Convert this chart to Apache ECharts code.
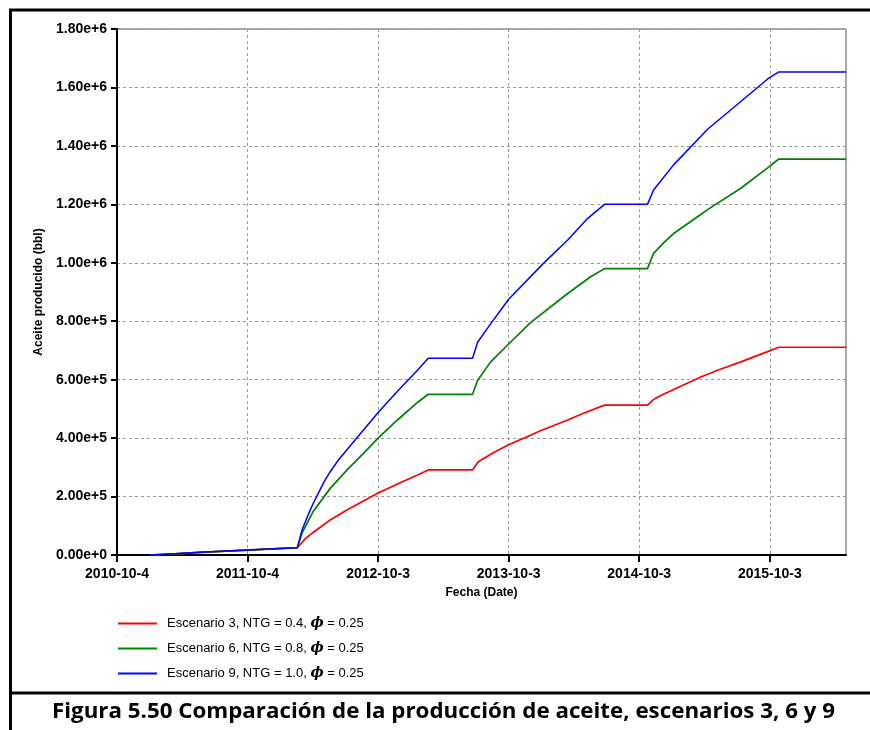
<!DOCTYPE html>
<html>
<head>
<meta charset="utf-8">
<script src="https://cdn.jsdelivr.net/npm/echarts@6/dist/echarts.min.js"></script>
<style>
  html, body { margin: 0; padding: 0; background: #fff; }
  #chart { width: 870px; height: 730px; }
</style>
</head>
<body>
<div id="chart"></div>
<script>
// Cumulative oil production, scenarios 3, 6 and 9
const baseDate = '2010-10-04';
const tickDates = ['2010-10-04', '2011-10-04', '2012-10-03', '2013-10-03', '2014-10-03', '2015-10-03'];
const yTicks = [0, 200000, 400000, 600000, 800000, 1000000, 1200000, 1400000, 1600000, 1800000];

// shared start-up period (all scenarios coincide)
const startDates = ['2011-01-04', '2011-03-15', '2011-05-24', '2011-10-04', '2012-02-20'];
const startValues = [0, 4000, 9000, 17000, 25000];

const esc3Dates = ['2012-02-28', '2012-03-13', '2012-04-05', '2012-04-30', '2012-05-22', '2012-07-09',
  '2012-08-23', '2012-10-03', '2012-11-26', '2013-01-21', '2013-02-20', '2013-06-24', '2013-07-10',
  '2013-08-21', '2013-10-03', '2013-12-03', '2013-12-31', '2014-03-17', '2014-04-30', '2014-06-28',
  '2014-10-26', '2014-11-12', '2014-12-02', '2015-03-24', '2015-05-10', '2015-07-14', '2015-09-27',
  '2015-10-28', '2016-05-03'];
const esc3Values = [35000, 55000, 78000, 100000, 120000, 155000,
  185000, 212000, 243000, 274000, 291000, 291000, 319000,
  350000, 377000, 410000, 425000, 462000, 485000, 513000,
  513000, 532000, 546000, 609000, 632000, 661000, 696000,
  711000, 711000];

const esc6Dates = ['2012-03-05', '2012-04-05', '2012-05-22', '2012-07-09', '2012-08-23', '2012-10-03',
  '2012-11-26', '2013-01-21', '2013-02-20', '2013-06-24', '2013-07-08', '2013-08-13', '2013-10-03',
  '2013-12-03', '2014-03-17', '2014-05-20', '2014-06-28', '2014-10-26', '2014-11-12', '2014-12-10',
  '2015-01-07', '2015-03-24', '2015-04-12', '2015-07-14', '2015-09-27', '2015-10-28', '2016-05-03'];
const esc6Values = [77000, 150000, 228000, 292000, 348000, 400000,
  462000, 522000, 550000, 550000, 597000, 660000, 722000,
  795000, 895000, 952000, 980000, 980000, 1032000, 1068000,
  1100000, 1165000, 1182000, 1255000, 1325000, 1355000, 1355000];

const esc9Dates = ['2012-03-05', '2012-03-13', '2012-03-24', '2012-04-05', '2012-04-19', '2012-05-05',
  '2012-05-22', '2012-06-14', '2012-07-09', '2012-08-23', '2012-10-03', '2012-11-26', '2013-01-21',
  '2013-02-20', '2013-06-24', '2013-07-08', '2013-08-13', '2013-10-03', '2014-01-08', '2014-03-17',
  '2014-05-12', '2014-06-28', '2014-10-26', '2014-11-12', '2015-01-07', '2015-04-12', '2015-07-14',
  '2015-09-27', '2015-10-28', '2016-05-03'];
const esc9Values = [88000, 112000, 145000, 178000, 212000, 250000,
  285000, 325000, 362000, 428000, 488000, 560000, 632000,
  673000, 673000, 728000, 790000, 875000, 998000, 1078000,
  1152000, 1200000, 1200000, 1249000, 1335000, 1457000, 1552000,
  1629000, 1653000, 1653000];

const seriesNames = [
  'Escenario 3, NTG = 0.4, ϕ = 0.25',
  'Escenario 6, NTG = 0.8, ϕ = 0.25',
  'Escenario 9, NTG = 1.0, ϕ = 0.25'
];
const seriesColors = ['#ff0000', '#008000', '#0000ff'];
const caption = 'Figura 5.50 Comparación de la producción de aceite, escenarios 3, 6 y 9';

const DAY = 86400000;
function toDay(s) {
  const p = s.split('-').map(Number);
  const b = baseDate.split('-').map(Number);
  return (Date.UTC(p[0], p[1] - 1, p[2]) - Date.UTC(b[0], b[1] - 1, b[2])) / DAY;
}
function dayLabel(d) {
  const b = baseDate.split('-').map(Number);
  const t = new Date(Date.UTC(b[0], b[1] - 1, b[2]) + Math.round(d) * DAY);
  return t.getUTCFullYear() + '-' + (t.getUTCMonth() + 1) + '-' + t.getUTCDate();
}
function buildSeries(dates, values) {
  const all = startDates.concat(dates);
  const vals = startValues.concat(values);
  return all.map((d, i) => [toDay(d), vals[i]]);
}

const tickDays = tickDates.map(toDay);
const data3 = buildSeries(esc3Dates, esc3Values);
const data6 = buildSeries(esc6Dates, esc6Values);
const data9 = buildSeries(esc9Dates, esc9Values);

// caption width fitting
const captionFont = 'bold 21px "Open Sans"';
const mctx = document.createElement('canvas').getContext('2d');
mctx.font = captionFont;
const captionScale = 783 / mctx.measureText(caption).width;

const chart = echarts.init(document.getElementById('chart'), null, { renderer: 'canvas' });
const axisFont = { fontFamily: 'Liberation Sans, Arial, sans-serif', fontWeight: 'bold', color: '#000' };

const option = {
  animation: false,
  backgroundColor: '#fff',
  grid: {
    left: 117, right: 24, top: 29, bottom: 175,
    show: true, borderColor: '#555', borderWidth: 1,
    outerBoundsMode: 'none'
  },
  xAxis: {
    type: 'value',
    min: 0,
    max: 2038,
    interval: 365,
    name: 'Fecha (Date)',
    nameLocation: 'middle',
    nameGap: 32,
    nameTextStyle: Object.assign({ fontSize: 12 }, axisFont),
    axisLine: { lineStyle: { color: '#000', width: 2 } },
    axisTick: { length: 7, lineStyle: { color: '#000', width: 2 }, customValues: tickDays },
    axisLabel: Object.assign({ fontSize: 14, margin: 12, formatter: v => dayLabel(v), customValues: tickDays }, axisFont),
    splitLine: { show: true, lineStyle: { color: '#999', type: [3, 3], width: 1 } }
  },
  yAxis: {
    type: 'value',
    min: 0,
    max: 1800000,
    interval: 200000,
    name: 'Aceite producido (bbl)',
    nameLocation: 'middle',
    nameGap: 62,
    nameTextStyle: Object.assign({ fontSize: 12 }, axisFont),
    axisLine: { show: true, lineStyle: { color: '#000', width: 2 } },
    axisTick: { show: true, length: 6, lineStyle: { color: '#000', width: 2 } },
    axisLabel: Object.assign({ fontSize: 14, margin: 10, formatter: v => Number(v).toExponential(2) }, axisFont),
    splitLine: { show: true, lineStyle: { color: '#999', type: [3, 3], width: 1 } }
  },
  legend: {
    orient: 'vertical',
    left: 118,
    top: 616,
    padding: 0,
    itemWidth: 39,
    itemHeight: 2,
    itemGap: 10,
    icon: 'rect',
    data: seriesNames,
    formatter: n => n.replace('ϕ', '{p|ϕ}'),
    textStyle: {
      fontFamily: 'Liberation Sans, Arial, sans-serif',
      fontSize: 13,
      lineHeight: 15,
      color: '#000',
      padding: [0, 0, 0, 5],
      rich: {
        p: { fontFamily: 'DejaVu Serif, serif', fontStyle: 'italic', fontWeight: 'bold', fontSize: 14, lineHeight: 15, color: '#000' }
      }
    }
  },
  series: [
    { name: seriesNames[0], type: 'line', data: data3, showSymbol: false, color: seriesColors[0], lineStyle: { width: 1.7, color: seriesColors[0] }, z: 3 },
    { name: seriesNames[1], type: 'line', data: data6, showSymbol: false, color: seriesColors[1], lineStyle: { width: 1.7, color: seriesColors[1] }, z: 4 },
    { name: seriesNames[2], type: 'line', data: data9, showSymbol: false, color: seriesColors[2], lineStyle: { width: 1.5, color: seriesColors[2] }, z: 5 }
  ],
  graphic: [
    { type: 'line', shape: { x1: 9, y1: 10, x2: 870, y2: 10 }, style: { stroke: '#000', lineWidth: 3 }, z: 10 },
    { type: 'line', shape: { x1: 10.5, y1: 9, x2: 10.5, y2: 730 }, style: { stroke: '#000', lineWidth: 3 }, z: 10 },
    { type: 'line', shape: { x1: 9, y1: 693, x2: 870, y2: 693 }, style: { stroke: '#000', lineWidth: 3 }, z: 10 },
    {
      type: 'text', x: 443.5, y: 712, scaleX: captionScale, z: 10,
      style: { text: caption, font: captionFont, fill: '#000', align: 'center', verticalAlign: 'middle' }
    }
  ]
};
chart.setOption(option);
</script>
</body>
</html>
